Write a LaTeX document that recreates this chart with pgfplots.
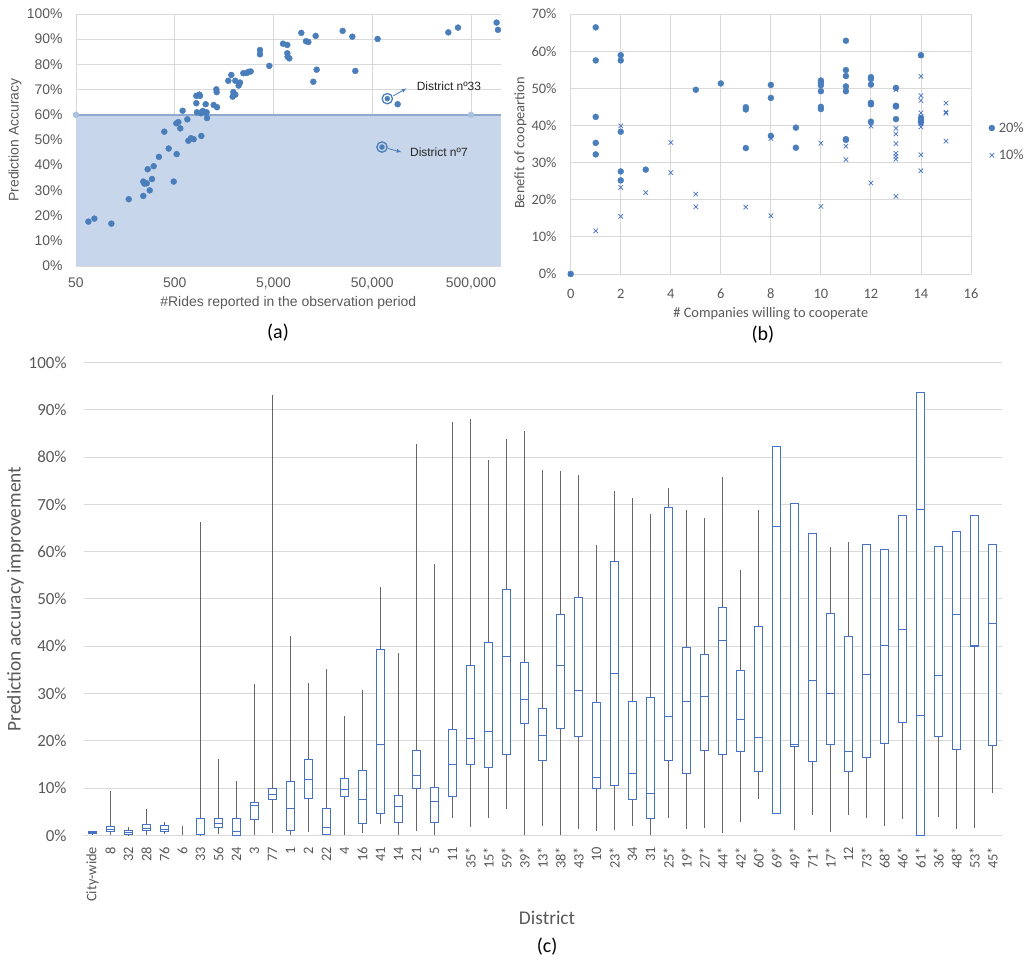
\documentclass[border=0pt]{standalone}
\usepackage{fontspec}
\setmainfont{Carlito}
\newfontfamily\arialfont{Liberation Sans}
\usepackage{pgfplots}
\pgfplotsset{compat=1.18}
\usepgfplotslibrary{statistics}
\usetikzlibrary{arrows.meta}
\definecolor{dotblue}{HTML}{4A7EBB}
\definecolor{boxblue}{HTML}{4472C4}
\definecolor{shade}{HTML}{C7D6EA}
\definecolor{shadeline}{HTML}{8EA9CF}
\definecolor{shadedot}{HTML}{A9C1E1}
\definecolor{gridgray}{HTML}{D9D9D9}
\definecolor{txtgray}{HTML}{595959}
\definecolor{whiskgray}{HTML}{666666}
\newcommand\fa{\arialfont\fontsize{14}{16}\selectfont}
\newcommand\fann{\arialfont\fontsize{12}{14}\selectfont}
\newcommand\fb{\fontsize{14.5}{17}\selectfont}
\newcommand\fc{\fontsize{17}{20}\selectfont}
\newcommand\fcx{\fontsize{14.5}{17}\selectfont}
\newcommand\fcl{\fontsize{19.5}{23}\selectfont}
\newcommand\fcap{\fontsize{20}{24}\selectfont}
\pgfplotsset{bx/.style={boxblue, solid, boxplot prepared={#1}}}
\begin{document}
\begin{tikzpicture}
\useasboundingbox (0bp,0bp) rectangle (1035bp,962bp);

% ---------------- panel (a)
\begin{axis}[
  at={(76bp,696bp)}, anchor=south west,
  scale only axis, width=424.7bp, height=252bp,
  xmode=log, xmin=50, xmax=1000000, ymin=0, ymax=100,
  xtick={50,500,5000,50000,500000},
  xticklabels={50,500,{5,000},{50,000},{500,000}},
  ytick={0,10,...,100},
  yticklabels={0\%,10\%,20\%,30\%,40\%,50\%,60\%,70\%,80\%,90\%,100\%},
  grid=major, major grid style={gridgray, line width=0.9pt},
  axis line style={draw=none}, tick style={draw=none},
  /pgf/number format/assume math mode=true,
  tick label style={font=\fa, text=txtgray, inner sep=0pt},
  xticklabel shift=11.7bp, yticklabel shift=13.3bp,
  xlabel={\#Rides reported in the observation period},
  ylabel={Prediction Accuracy},
  label style={font=\fa, text=txtgray},
  xlabel style={at={(axis description cs:0.5,-0.148)}, anchor=center},
  ylabel style={at={(axis description cs:-0.1436,0.5)}, anchor=center},
  clip=false,
]
\addplot[fill=shade, draw=none] coordinates {(50,0) (50,60) (1000000,60) (1000000,0)} --cycle;
\addplot[shadeline, line width=1.5pt] coordinates {(50,60) (1000000,60)};
\addplot[only marks, mark=*, mark size=3pt, color=shadedot] coordinates {(50,60) (500000,60)};
\addplot[only marks, mark=*, mark size=3pt, color=dotblue] coordinates {
(66.7,17.6)(76.7,18.8)(114,16.8)(171,26.5)(240,27.8)(240,33.5)(246,32.7)(260,32.8)(266,38.4)(279,30.0)(294,34.5)(306,39.6)(346,43.3)(392,53.3)(434,46.6)(488,33.5)(523,44.4)(519,56.6)(544,57.1)(569,54.6)(601,61.6)(671,58.2)(687,49.7)(730,50.7)(777,50.3)(827,64.6)(827,67.5)(840,61.0)(887,68.0)(901,67.5)(922,60.6)(929,51.6)(959,61.5)(1005,61.0)(1028,64.2)(1052,61.0)(1061,58.7)(1239,63.9)(1319,70.1)(1329,69.0)(1340,63.0)(1744,73.5)(1871,75.8)(1930,67.2)(1960,69.0)(2053,68.0)(2053,73.5)(2219,71.6)(2290,72.8)(2475,76.5)(2674,76.6)(2781,77.0)(2936,77.2)(3649,84.0)(3649,85.7)(4537,79.4)(6242,88.2)(6902,87.7)(6902,84.4)(6958,83.1)(7232,82.4)(9568,92.5)(10666,89.2)(11265,88.9)(12658,73.1)(13366,91.3)(13680,77.9)(25084,93.3)(31425,91.0)(33708,77.4)(56700,90.1)(90450,64.2)(294800,92.7)(369300,94.6)(909500,96.6)(938200,93.7)};
\addplot[only marks, mark=o, mark size=5.2pt, mark options={line width=1.3pt, draw=dotblue}] coordinates {(71050,66.4)(62770,47.2)};
\addplot[only marks, mark=*, mark size=2.5pt, color=dotblue] coordinates {(71050,66.4)(62770,47.2)};
\draw[dotblue, line width=0.8pt, -{Latex[length=5pt,width=4pt]}] (axis cs:81650,67.5) -- (axis cs:111600,70.5);
\draw[dotblue, line width=0.8pt, -{Latex[length=5pt,width=4pt]}] (axis cs:72140,46.6) -- (axis cs:99300,45.2);
\node[anchor=west, font=\fann, text=black!85, inner sep=0pt] at (axis cs:140900,71.2) {District nº33};
\node[anchor=west, font=\fann, text=black!85, inner sep=0pt] at (axis cs:120500,45.2) {District nº7};
\node[font=\fcap, text=black] at (axis description cs:0.4756,-0.266) {(a)};
\end{axis}

% ---------------- panel (b)
\begin{axis}[
  at={(570.7bp,688bp)}, anchor=south west,
  scale only axis, width=400.3bp, height=260bp,
  xmin=0, xmax=16, ymin=0, ymax=70,
  xtick={0,2,...,16},
  ytick={0,10,...,70},
  yticklabels={0\%,10\%,20\%,30\%,40\%,50\%,60\%,70\%},
  grid=major, major grid style={gridgray, line width=0.9pt},
  axis line style={draw=none}, tick style={draw=none},
  /pgf/number format/assume math mode=true,
  tick label style={font=\fb, text=txtgray, inner sep=0pt},
  xticklabel shift=14.7bp, yticklabel shift=14bp,
  xlabel={\# Companies willing to cooperate},
  ylabel={Benefit of coopeartion},
  label style={font=\fb, text=txtgray},
  xlabel style={at={(axis description cs:0.5,-0.151)}, anchor=center},
  ylabel style={at={(axis description cs:-0.125,0.504)}, anchor=center},
  legend style={at={(axis description cs:1.044,0.509)}, anchor=west, draw=none, fill=none, font=\fb, text=txtgray, row sep=12pt, inner sep=0pt, nodes={inner xsep=4pt}},
  legend cell align=left,
  legend image code/.code={\draw[#1] plot coordinates {(0.15cm,0cm)};},
  clip=false,
]
\addplot[only marks, mark=*, mark size=3pt, color=dotblue] coordinates {
(0,0)
(1,66.4)(1,57.5)(1,42.3)(1,35.3)(1,32.2)
(2,58.9)(2,57.5)(2,38.3)(2,27.6)(2,25.2)
(3,28.1)(5,49.6)(6,51.3)
(7,44.9)(7,44.3)(7,33.9)
(8,50.9)(8,47.4)(8,37.2)
(9,39.4)(9,34.0)
(10,52.1)(10,51.5)(10,50.8)(10,49.2)(10,45.0)(10,44.4)
(11,62.8)(11,54.9)(11,53.3)(11,50.5)(11,49.2)(11,36.3)(11,36.1)
(12,53.0)(12,52.5)(12,51.0)(12,46.1)(12,45.7)(12,41.0)
(13,50.1)(13,45.3)(13,45.1)(13,41.7)
(14,58.9)(14,42.0)(14,41.4)(14,40.8)};
\addlegendentry{20\%}
\addplot[only marks, mark=x, mark size=3.2pt, mark options={line width=0.7pt}, color=boxblue] coordinates {
(0,0)(1,11.6)
(2,39.9)(2,23.3)(2,15.5)
(3,21.9)(4,35.4)(4,27.3)
(5,21.5)(5,18.1)(7,18.0)
(8,36.5)(8,15.7)
(10,35.2)(10,18.2)
(11,34.4)(11,30.8)
(12,45.6)(12,39.8)(12,24.5)
(13,49.6)(13,45.2)(13,39.2)(13,37.7)(13,35.1)(13,32.5)(13,31.7)(13,30.9)(13,20.9)
(14,58.8)(14,53.2)(14,48.0)(14,46.7)(14,43.4)(14,42.3)(14,41.4)(14,40.5)(14,39.6)(14,32.1)(14,27.8)
(15,46.0)(15,43.6)(15,43.3)(15,35.8)};
\addlegendentry{10\%}
\node[font=\fcap, text=black] at (axis description cs:0.48,-0.235) {(b)};
\end{axis}

% ---------------- panel (c)
\begin{axis}[
  at={(83.5bp,126.7bp)}, anchor=south west,
  scale only axis, width=918bp, height=472.6bp,
  xmin=-0.5, xmax=50.5, ymin=0, ymax=100,
  xtick={0,...,50},
  xticklabels={City-wide,8,32,28,76,6,33,56,24,3,77,1,2,22,4,16,41,14,21,5,11,35*,15*,59*,39*,13*,38*,43*,10,23*,34,31,25*,19*,27*,44*,42*,60*,69*,49*,71*,17*,12,73*,68*,46*,61*,36*,48*,53*,45*},
  ytick={0,10,...,100},
  yticklabels={0\%,10\%,20\%,30\%,40\%,50\%,60\%,70\%,80\%,90\%,100\%},
  ymajorgrids, major grid style={gridgray, line width=1bp},
  axis line style={draw=none}, tick style={draw=none},
  /pgf/number format/assume math mode=true,
  yticklabel style={font=\fc, text=txtgray, inner sep=0pt},
  xticklabel style={font=\fcx, text=txtgray, inner sep=0pt, rotate=90, anchor=east},
  xticklabel shift=11.4bp, yticklabel shift=16.7bp,
  xlabel={District},
  ylabel={Prediction accuracy improvement},
  label style={font=\fcl, text=txtgray},
  xlabel style={at={(axis description cs:0.505,-0.175)}, anchor=center},
  ylabel style={at={(axis description cs:-0.0741,0.5)}, anchor=center},
  boxplot/draw direction=y,
  boxplot/box extend=0.444444,
  boxplot/whisker extend=0,
  boxplot/every box/.style={draw=boxblue, fill=white, line width=1bp},
  boxplot/every whisker/.style={draw=whiskgray, line width=1bp},
  boxplot/every median/.style={draw=boxblue, line width=1bp},
  clip=false,
]
\addplot[bx={draw position=0, lower whisker=0, lower quartile=0.3, median=0.6, upper quartile=0.9, upper whisker=1.0}] coordinates {};
\addplot[bx={draw position=1, lower whisker=0, lower quartile=0.8, median=1.3, upper quartile=1.8, upper whisker=9.4}] coordinates {};
\addplot[bx={draw position=2, lower whisker=0, lower quartile=0.1, median=0.6, upper quartile=1.0, upper whisker=1.8}] coordinates {};
\addplot[bx={draw position=3, lower whisker=0, lower quartile=1.0, median=1.5, upper quartile=2.3, upper whisker=5.5}] coordinates {};
\addplot[bx={draw position=4, lower whisker=0.2, lower quartile=0.8, median=1.3, upper quartile=2.0, upper whisker=2.9}] coordinates {};
\addplot[whiskgray, line width=1bp] coordinates {(5,0) (5,2.0)};
\addplot[bx={draw position=6, lower whisker=0, lower quartile=0.1, median=0.2, upper quartile=3.6, upper whisker=66.3}] coordinates {};
\addplot[bx={draw position=7, lower whisker=0.3, lower quartile=1.6, median=2.5, upper quartile=3.6, upper whisker=16.1}] coordinates {};
\addplot[bx={draw position=8, lower whisker=0, lower quartile=0, median=0.8, upper quartile=3.5, upper whisker=11.4}] coordinates {};
\addplot[bx={draw position=9, lower whisker=0, lower quartile=3.4, median=6.4, upper quartile=7.0, upper whisker=32.1}] coordinates {};
\addplot[bx={draw position=10, lower whisker=0.4, lower quartile=7.5, median=8.7, upper quartile=9.9, upper whisker=93.2}] coordinates {};
\addplot[bx={draw position=11, lower whisker=0, lower quartile=1.1, median=5.7, upper quartile=11.3, upper whisker=42.2}] coordinates {};
\addplot[bx={draw position=12, lower whisker=0.7, lower quartile=7.8, median=11.9, upper quartile=16.1, upper whisker=32.2}] coordinates {};
\addplot[bx={draw position=13, lower whisker=0, lower quartile=0.2, median=1.6, upper quartile=5.7, upper whisker=35.2}] coordinates {};
\addplot[bx={draw position=14, lower whisker=0, lower quartile=8.3, median=9.7, upper quartile=12.1, upper whisker=25.2}] coordinates {};
\addplot[bx={draw position=15, lower whisker=0.4, lower quartile=2.5, median=7.6, upper quartile=13.8, upper whisker=30.7}] coordinates {};
\addplot[bx={draw position=16, lower whisker=2.3, lower quartile=4.6, median=19.3, upper quartile=39.4, upper whisker=52.5}] coordinates {};
\addplot[bx={draw position=17, lower whisker=0.1, lower quartile=2.7, median=6.1, upper quartile=8.5, upper whisker=38.6}] coordinates {};
\addplot[bx={draw position=18, lower whisker=0.9, lower quartile=9.9, median=12.6, upper quartile=17.9, upper whisker=82.9}] coordinates {};
\addplot[bx={draw position=19, lower whisker=0, lower quartile=2.7, median=7.2, upper quartile=10.2, upper whisker=57.4}] coordinates {};
\addplot[bx={draw position=20, lower whisker=3.7, lower quartile=8.3, median=14.9, upper quartile=22.4, upper whisker=87.5}] coordinates {};
\addplot[bx={draw position=21, lower whisker=1.7, lower quartile=14.9, median=20.5, upper quartile=35.9, upper whisker=88.1}] coordinates {};
\addplot[bx={draw position=22, lower whisker=3.7, lower quartile=14.4, median=22.0, upper quartile=40.8, upper whisker=79.4}] coordinates {};
\addplot[bx={draw position=23, lower whisker=5.5, lower quartile=17.2, median=37.9, upper quartile=52.0, upper whisker=83.8}] coordinates {};
\addplot[bx={draw position=24, lower whisker=0, lower quartile=23.6, median=28.7, upper quartile=36.6, upper whisker=85.5}] coordinates {};
\addplot[bx={draw position=25, lower whisker=2.0, lower quartile=15.8, median=21.2, upper quartile=26.9, upper whisker=77.4}] coordinates {};
\addplot[bx={draw position=26, lower whisker=0, lower quartile=22.7, median=36.0, upper quartile=46.8, upper whisker=77.0}] coordinates {};
\addplot[bx={draw position=27, lower whisker=1.4, lower quartile=20.9, median=30.7, upper quartile=50.4, upper whisker=76.3}] coordinates {};
\addplot[bx={draw position=28, lower whisker=1.0, lower quartile=9.9, median=12.2, upper quartile=28.1, upper whisker=61.5}] coordinates {};
\addplot[bx={draw position=29, lower whisker=1.1, lower quartile=10.6, median=34.3, upper quartile=57.9, upper whisker=72.8}] coordinates {};
\addplot[bx={draw position=30, lower whisker=2.0, lower quartile=7.6, median=13.1, upper quartile=28.3, upper whisker=71.3}] coordinates {};
\addplot[bx={draw position=31, lower whisker=0.1, lower quartile=3.5, median=8.9, upper quartile=29.1, upper whisker=67.9}] coordinates {};
\addplot[bx={draw position=32, lower whisker=3.6, lower quartile=15.8, median=25.2, upper quartile=69.3, upper whisker=73.5}] coordinates {};
\addplot[bx={draw position=33, lower whisker=1.4, lower quartile=13.1, median=28.3, upper quartile=39.7, upper whisker=68.9}] coordinates {};
\addplot[bx={draw position=34, lower whisker=1.6, lower quartile=17.9, median=29.3, upper quartile=38.3, upper whisker=67.2}] coordinates {};
\addplot[bx={draw position=35, lower whisker=0.4, lower quartile=17.1, median=41.3, upper quartile=48.1, upper whisker=75.9}] coordinates {};
\addplot[bx={draw position=36, lower whisker=2.8, lower quartile=17.8, median=24.5, upper quartile=34.9, upper whisker=56.1}] coordinates {};
\addplot[bx={draw position=37, lower whisker=7.6, lower quartile=13.6, median=20.7, upper quartile=44.2, upper whisker=68.9}] coordinates {};
\addplot[bx={draw position=38, lower whisker=4.7, lower quartile=4.7, median=65.3, upper quartile=82.3, upper whisker=82.3}] coordinates {};
\addplot[bx={draw position=39, lower whisker=1.1, lower quartile=18.8, median=19.3, upper quartile=70.2, upper whisker=70.2}] coordinates {};
\addplot[bx={draw position=40, lower whisker=4.4, lower quartile=15.7, median=32.7, upper quartile=63.8, upper whisker=63.8}] coordinates {};
\addplot[bx={draw position=41, lower whisker=0.6, lower quartile=19.3, median=30.0, upper quartile=47.0, upper whisker=61.1}] coordinates {};
\addplot[bx={draw position=42, lower whisker=4.4, lower quartile=13.5, median=17.8, upper quartile=42.0, upper whisker=62.0}] coordinates {};
\addplot[bx={draw position=43, lower whisker=3.7, lower quartile=16.4, median=34.1, upper quartile=61.5, upper whisker=61.5}] coordinates {};
\addplot[bx={draw position=44, lower whisker=2.0, lower quartile=19.5, median=40.1, upper quartile=60.4, upper whisker=60.4}] coordinates {};
\addplot[bx={draw position=45, lower whisker=3.5, lower quartile=23.8, median=43.6, upper quartile=67.6, upper whisker=67.6}] coordinates {};
\addplot[bx={draw position=46, lower whisker=0, lower quartile=0, median=69.0, upper quartile=93.7, upper whisker=93.7}] coordinates {};
\addplot[boxblue, line width=1bp] coordinates {(45.7778,25.3) (46.2222,25.3)};
\addplot[bx={draw position=47, lower whisker=3.9, lower quartile=20.8, median=33.9, upper quartile=61.1, upper whisker=61.1}] coordinates {};
\addplot[bx={draw position=48, lower whisker=1.4, lower quartile=18.1, median=46.7, upper quartile=64.3, upper whisker=64.3}] coordinates {};
\addplot[bx={draw position=49, lower whisker=1.5, lower quartile=39.9, median=40.1, upper quartile=67.6, upper whisker=67.6}] coordinates {};
\addplot[bx={draw position=50, lower whisker=8.9, lower quartile=19.1, median=44.9, upper quartile=61.5, upper whisker=61.5}] coordinates {};
\node[font=\fcap, text=black] at (axis description cs:0.505,-0.2357) {(c)};
\end{axis}
\end{tikzpicture}
\end{document}
